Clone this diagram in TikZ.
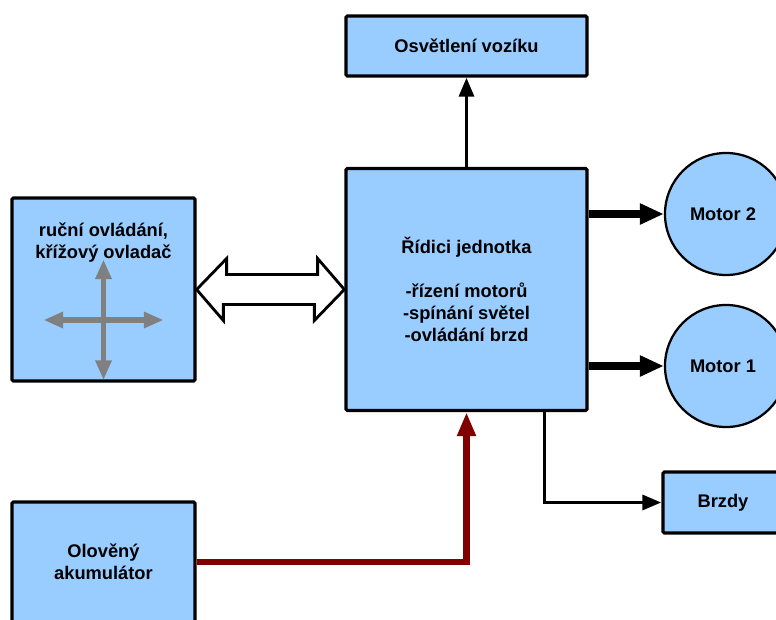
\documentclass[tikz,border=0pt]{standalone}
\usepackage{fontspec}
\setmainfont{Liberation Sans}
\usetikzlibrary{arrows.meta,calc}

\definecolor{boxblue}{RGB}{153,204,255}
\definecolor{powerred}{RGB}{128,0,0}
\definecolor{crossgray}{RGB}{128,128,128}

\tikzset{
    box/.style={draw=black, fill=boxblue, line width=2.3pt, rounded corners=1pt},
    motorcircle/.style={circle, draw=black, fill=boxblue, line width=1.6pt, minimum size=3.05cm},
    label text/.style={font=\fontsize{13}{15.6}\selectfont\bfseries, align=center},
    signal/.style={line width=2.6pt, -{Triangle[length=13.5pt,width=10.5pt]}},
    drive/.style={line width=5pt, -{Triangle[length=17pt,width=14pt]}},
    power/.style={powerred, line width=4.5pt, -{Triangle[length=17pt,width=12.5pt]}},
    hollow/.style={draw=black, fill=white, line width=2pt, line join=miter},
    cross/.style={crossgray, line width=3.6pt, {Triangle[length=14pt,width=11pt]}-{Triangle[length=14pt,width=11pt]}}
}

\begin{document}
\begin{tikzpicture}[x=0.025cm, y=-0.025cm]
    \clip (0,0) rectangle (776,619);
    \fill[white] (0,0) rectangle (776,619);

    % boxes
    \node[box, minimum width=6.025cm, minimum height=1.5cm, label text] (svetla) at (466.5,46) {Osvětlení vozíku};
    \node[box, minimum width=6.025cm, minimum height=6.05cm, label text] (ridici) at (466.5,289.5)
        {Řídici jednotka\\[15.6pt]-řízení motorů\\-spínání světel\\-ovládání brzd};
    \node[box, minimum width=4.575cm, minimum height=4.575cm] (rucni) at (103.5,289.5) {};
    \node[label text] (rucnitext) at ($(rucni.north)+(0,46)$) {ruční ovládání,\\křížový ovladač};
    \node[box, minimum width=4.575cm, minimum height=3cm, label text] (aku) at (103.5,562) {Olověný\\akumulátor};
    \node[box, minimum width=3cm, minimum height=1.525cm, label text] (brzdy) at (723,502.5) {Brzdy};

    % motors
    \foreach \m/\yy in {2/214,1/366}{
        \node[motorcircle] (motor\m) at (726,\yy) {};
        \node[label text] (motortext\m) at (723,\yy) {Motor \m};
        \draw[drive] (motor\m.west -| ridici.east) -- (motor\m.west);
    }

    % cross in the manual control box
    \draw[cross] ($(rucni.center)+(0,-30)$) -- ($(rucni.center)+(0,90.5)$);
    \draw[cross] ($(rucni.center)+(-60,30.5)$) -- ($(rucni.center)+(60,30.5)$);

    % connections
    \draw[hollow] (rucni.east) -- ++(30,-31) -- ++(0,16) -- ++(91,0) -- ++(0,-16) -- (ridici.west)
        -- ++(-30,31) -- ++(0,-16) -- ++(-91,0) -- ++(0,16) -- cycle;
    \draw[signal] (ridici.north) -- (svetla.south);
    \draw[signal] ($(ridici.south east)+(-44,0)$) |- (brzdy.west);
    \draw[power] (aku.east) -| (ridici.south);
\end{tikzpicture}
\end{document}
